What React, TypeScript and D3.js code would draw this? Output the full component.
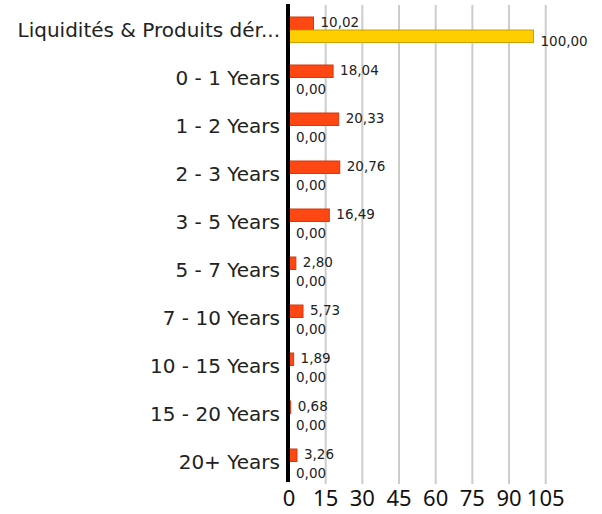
import React from 'react';
import * as d3 from 'd3';

const categories = [
  'Liquidités & Produits dér...',
  '0 - 1 Years',
  '1 - 2 Years',
  '2 - 3 Years',
  '3 - 5 Years',
  '5 - 7 Years',
  '7 - 10 Years',
  '10 - 15 Years',
  '15 - 20 Years',
  '20+ Years',
];
const fundValues = [10.02, 18.04, 20.33, 20.76, 16.49, 2.8, 5.73, 1.89, 0.68, 3.26];
const benchmarkValues = [100, 0, 0, 0, 0, 0, 0, 0, 0, 0];
const xTicks = [0, 15, 30, 45, 60, 75, 90, 105];

const W = 602;
const H = 514;
const font = '"Noto Sans", sans-serif';
const wideFont = '"DejaVu Sans", sans-serif';

const fmt = (v: number) => v.toFixed(2).replace('.', ',');

const App = () => {
  const x = d3.scaleLinear().domain([0, 105]).range([289, 545.7]);
  const y = d3.scaleBand<string>().domain(categories).range([5, 485]);
  const series = [
    { key: 'fund', values: fundValues, fill: '#FF4713', stroke: '#D23A0E' },
    { key: 'bench', values: benchmarkValues, fill: '#FFCE00', stroke: '#C9A200' },
  ];
  const sub = d3.scaleBand<string>().domain(series.map(s => s.key)).range([-12, 13.5]).paddingInner(0.04);

  return (
    <svg width={W} height={H} style={{ position: 'absolute', left: 0, top: 0, background: '#fff' }}>
      {xTicks.filter(t => t > 0).map(t => (
        <line key={t} x1={x(t)} x2={x(t)} y1={5} y2={484} stroke="#cccccc" strokeWidth={2} />
      ))}
      {categories.map((c, i) => {
        const cy = (y(c) as number) + y.bandwidth() / 2;
        return (
          <g key={c}>
            <text x={280} y={cy + 8} textAnchor="end" fontFamily={wideFont} fontSize={20} fill="#222">
              {c}
            </text>
            {series.map(s => {
              const v = s.values[i];
              const top = cy + (sub(s.key) as number);
              const h = sub.bandwidth();
              const labelY = s.key === 'fund' ? top + h - 2 : top + h + 3.5;
              return (
                <g key={s.key}>
                  {v > 0 && (
                    <rect x={x(0)} y={top} width={x(v) - x(0)} height={h} fill={s.fill} stroke={s.stroke} strokeWidth={1} />
                  )}
                  <text x={x(v) + 7} y={labelY} fontFamily={wideFont} fontSize={13.5} fill="#222">
                    {fmt(v)}
                  </text>
                </g>
              );
            })}
          </g>
        );
      })}
      <line x1={288} x2={288} y1={4} y2={482} stroke="#000" strokeWidth={4} />
      {xTicks.map(t => (
        <text key={t} x={x(t)} y={506} textAnchor="middle" fontFamily={font} fontSize={22} fill="#111">
          {t}
        </text>
      ))}
    </svg>
  );
};

export default App;
